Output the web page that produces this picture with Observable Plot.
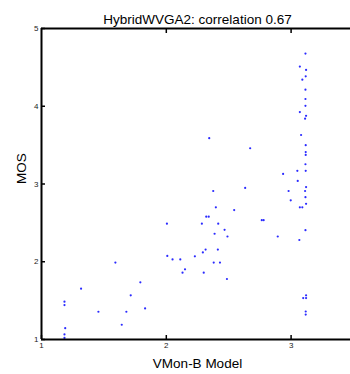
<!DOCTYPE html>
<html><head><meta charset="utf-8">
<script src="https://cdn.jsdelivr.net/npm/d3@7"></script>
<script src="https://cdn.jsdelivr.net/npm/@observablehq/plot@0.6"></script>
<style>body{margin:0;background:#fff}</style>
</head><body><div id="chart"></div>
<script>
const title = "HybridWVGA2: correlation 0.67";
const xLabel = "VMon-B Model";
const yLabel = "MOS";
const xTicks = [1, 2, 3];
const yTicks = [1, 2, 3, 4, 5];
const model = [1.184,1.184,1.19,1.184,1.184,1.317,1.456,1.592,1.643,1.68,1.715,1.792,1.83,2.008,2.05,2.112,2.15,2.13,2.344,2.672,2.936,2.376,2.632,2.98,2.397,2.544,2.32,2.34,2.005,2.285,2.416,2.765,2.78,2.467,2.387,2.49,2.893,2.315,2.293,2.413,2.229,2.38,2.43,2.30,2.486,3.115,3.07,3.12,3.117,3.09,3.115,3.115,3.115,3.07,3.12,3.112,3.08,3.117,3.117,3.117,3.115,3.05,3.117,3.053,3.12,3.112,3.115,2.997,3.12,3.07,3.09,3.115,3.066,3.12,3.097,3.12,3.117,3.117];
const mos = [1.486,1.443,1.146,1.065,1.02,1.654,1.357,1.99,1.19,1.357,1.568,1.735,1.40,2.075,2.03,2.03,1.903,1.86,3.59,3.46,3.13,2.91,2.95,2.91,2.70,2.665,2.58,2.58,2.49,2.49,2.49,2.535,2.535,2.41,2.36,2.325,2.325,2.157,2.12,2.157,2.07,1.99,1.99,1.86,1.778,4.677,4.51,4.467,4.385,4.342,4.213,4.093,4.006,3.925,3.877,3.84,3.63,3.50,3.41,3.374,3.254,3.17,3.17,3.04,2.96,2.91,2.83,2.79,2.745,2.70,2.70,2.406,2.28,1.568,1.533,1.533,1.36,1.32];
const data = model.map((x, i) => ({x, y: mos[i]}));

const chart = Plot.plot({
  width: 350, height: 374,
  marginLeft: 41, marginRight: -3, marginTop: 28, marginBottom: 35,
  style: {fontFamily: "'Liberation Sans', Arial, sans-serif", background: "#fff", color: "#000"},
  x: {domain: [1, 3.5]},
  y: {domain: [1, 5]},
  marks: [
    Plot.dot(data, {x: "x", y: "y", r: 1.1, fill: "#2a2aff", stroke: "none"}),
    Plot.ruleX([1], {stroke: "#000", strokeWidth: 2}),
    Plot.ruleY([1, 5], {stroke: "#000", strokeWidth: 2}),
    Plot.axisX(xTicks, {anchor: "bottom", tickSize: -4, tickPadding: 7, fontSize: 8, tickFormat: d => d, label: null, stroke: "#000", strokeWidth: 1.5, fill: "#222"}),
    Plot.axisX([2, 3], {anchor: "top", tickSize: -4, tickFormat: () => "", label: null, stroke: "#000", strokeWidth: 1.5}),
    Plot.axisY(yTicks, {anchor: "left", tickSize: -4, tickPadding: 7, fontSize: 8, tickFormat: d => d, label: null, stroke: "#000", strokeWidth: 1.5, fill: "#222"}),
    Plot.text([xLabel], {frameAnchor: "bottom", lineAnchor: "bottom", dy: 28, fontSize: 13.5, letterSpacing: 0.3, fill: "#000"}),
    Plot.text([yLabel], {frameAnchor: "left", dx: -20, rotate: -90, fontSize: 13.5, letterSpacing: 0.3, fill: "#000"}),
    Plot.text([title], {frameAnchor: "top", lineAnchor: "bottom", dy: -5, fontSize: 13.5, letterSpacing: 0.6, fill: "#000"})
  ]
});
document.getElementById("chart").append(chart);
</script>
</body></html>
